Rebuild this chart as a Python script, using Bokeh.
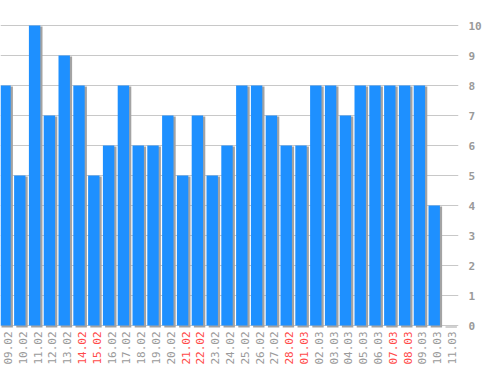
import numpy as np
from bokeh.plotting import figure
from bokeh.models import (ColumnDataSource, Range1d, FixedTicker, GlobalInlineStyleSheet)
from bokeh.core.properties import value
from bokeh.transform import dodge
from bokeh.embed import file_html
from bokeh.resources import INLINE

dates = ["09.02", "10.02", "11.02", "12.02", "13.02", "14.02", "15.02", "16.02",
         "17.02", "18.02", "19.02", "20.02", "21.02", "22.02", "23.02", "24.02",
         "25.02", "26.02", "27.02", "28.02", "01.03", "02.03", "03.03", "04.03",
         "05.03", "06.03", "07.03", "08.03", "09.03", "10.03", "11.03"]
values = [8, 5, 10, 7, 9, 8, 5, 6, 8, 6, 6, 7, 5, 7, 5, 6,
          8, 8, 7, 6, 6, 8, 8, 7, 8, 8, 8, 8, 8, 4, 0]
weekend = ["14.02", "15.02", "21.02", "22.02", "28.02", "01.03", "07.03", "08.03"]
y_ticks = [0, 1, 2, 3, 4, 5, 6, 7, 8, 9, 10]

BLUE = "#1e90ff"
SHADOW = "#a3a3a3"
GREY = "#9a9a9a"
RED = "#ff4a4a"

px_x = 14.8   # px per category
px_y = 30.0   # px per unit

idx = np.arange(len(dates))
vals = np.array(values, dtype=float)
src = ColumnDataSource(dict(
    x=idx, top=vals,
    stop=vals - 1.0 / px_y,
    sbot=np.full(len(vals), -2.0 / px_y),
    ly=np.full(len(vals), -6.0 / px_y),
    label=dates,
    lcolor=[RED if d in weekend else GREY for d in dates],
))

W, H = 498, 370
frame_w, frame_h = 458, 370
x0 = -4.5 / px_x
y0 = -(frame_h - 325) / px_y

p = figure(width=W, height=H, output_backend="svg", toolbar_location=None,
           x_range=Range1d(x0, x0 + frame_w / px_x),
           y_range=Range1d(y0, y0 + frame_h / px_y),
           y_axis_location="right", x_axis_location=None,
           min_border_left=0, min_border_top=0,
           min_border_bottom=0, min_border_right=W - frame_w)
p.stylesheets = [GlobalInlineStyleSheet(css="body{margin:0 !important;overflow:hidden;}")]
p.outline_line_color = None
p.background_fill_color = "white"
p.border_fill_color = "white"

p.xgrid.grid_line_color = None
p.ygrid.grid_line_color = "#c8c8c8"
p.ygrid.grid_line_width = 1

ya = p.yaxis[0]
ya.ticker = FixedTicker(ticks=y_ticks)
ya.axis_line_color = None
ya.major_tick_line_color = None
ya.minor_tick_line_color = None
ya.major_label_standoff = 4
ya.major_label_text_font = "DejaVu Sans Mono"
ya.major_label_text_font_size = "11px"
ya.major_label_text_font_style = "bold"
ya.major_label_text_color = GREY

bw = 0.77
p.vbar(x=dodge("x", 2.2 / px_x), top="stop", bottom="sbot", width=bw,
       source=src, fill_color=SHADOW, line_color=None)
p.vbar(x="x", top="top", bottom=0, width=bw, source=src,
       fill_color=BLUE, line_color=None)

p.text(x="x", y="ly", text="label", source=src, angle=np.pi / 2,
       text_align="right", text_baseline="middle", x_offset=3,
       text_font=value("DejaVu Sans Mono"), text_font_size="11px",
       text_color="lcolor")

open("out.html", "w").write(file_html(p, INLINE))
